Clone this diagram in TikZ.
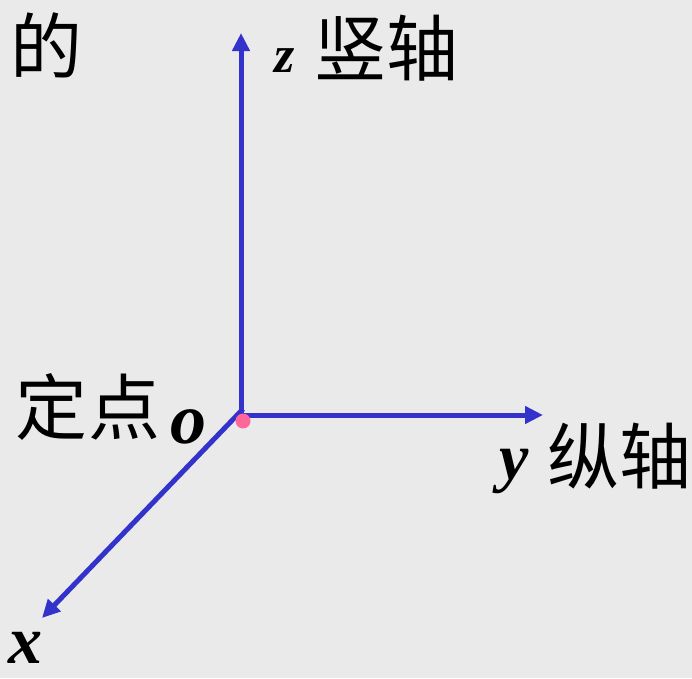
\documentclass[tikz,border=0pt]{standalone}
\usepackage{fontspec}
\setmainfont{Liberation Serif}
\newfontfamily\cjk{Noto Sans CJK SC}
\usetikzlibrary{arrows.meta}
\definecolor{axisblue}{RGB}{51,51,204}
\definecolor{dotpink}{RGB}{255,102,153}
\definecolor{bg}{RGB}{234,234,234}
\tikzset{
  axis/.style={draw=axisblue, line width=5pt, -{Triangle[length=18pt,width=17pt]}},
  cjklabel/.style={inner sep=0pt, font=\cjk\fontsize{72}{80}\selectfont},
  varlabel/.style={inner sep=0pt, font=\bfseries\itshape\fontsize{#1}{#1}\selectfont},
}
\begin{document}
\begin{tikzpicture}[x=1pt,y=-1pt]
\fill[bg] (0,0) rectangle (692,678);
\useasboundingbox (0,0) rectangle (692,678);
\coordinate (O) at (241,415);
\coordinate (Z) at (241,33);
\coordinate (Y) at (543,415);
\coordinate (X) at (42,618);
\draw[axis] (O) -- (Z);
\draw[axis] (O) -- (Y);
\draw[axis] ([xshift=2pt,yshift=6pt]O) -- (X);
\node[circle, fill=dotpink, minimum size=15pt, inner sep=0pt] (dot) at (243,421) {};
\node[cjklabel] (de) at (46,45) {的};
\node[cjklabel] (zaxis) at (386,48) {竖轴};
\node[cjklabel] (dingdian) at (88,407) {定点};
\node[cjklabel] (yaxis) at (619,456) {纵轴};
\node[varlabel=52] (zl) at (285,61) {z};
\node[varlabel=72] (ol) at (188,427) {o};
\node[varlabel=66] (yl) at (514,471) {y};
\node[varlabel=68] (xl) at (26,648) {x};
\end{tikzpicture}
\end{document}
